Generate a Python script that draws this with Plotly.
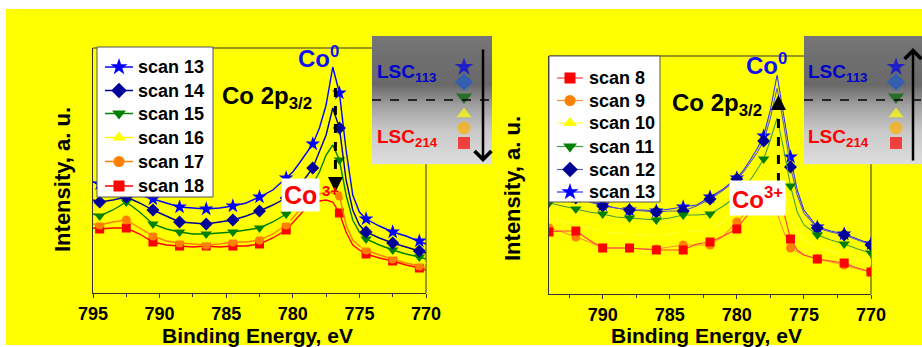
import numpy as np
import plotly.graph_objects as go

W, H = 922, 347

# ---------------- data ----------------
# Left panel: scans 13 -> 18 (LSC113 -> LSC214)
E_LEFT = [795, 794.5, 793.5, 792.5, 791.5, 790.5, 789.5, 788.5, 787.5, 786.5, 785.5,
          784.5, 783.5, 782.5, 781.5, 780.5, 780, 779.5, 779, 778.5, 778, 777.5, 777,
          776.5, 776, 775.5, 775, 774.5, 773.5, 772.5, 771.5, 770.5, 770]
SCAN13_L = [118, 116, 112, 110, 105, 101, 97, 93, 92, 91, 92, 94, 97, 103, 110, 122, 128,
            137, 146, 156, 172, 195, 233, 207, 150, 105, 88, 81, 74, 68, 64, 59, 56]
SCAN14_L = [100, 98, 100, 103, 97, 90, 84, 78, 77, 76, 78, 80, 84, 89, 95, 102, 108,
            115, 123, 132, 148, 165, 192, 172, 120, 90, 75, 68, 62, 57, 53, 49, 47]
SCAN15_L = [86, 84, 90, 98, 88, 76, 71, 68, 66, 66, 67, 68, 70, 72, 78, 86, 91,
            98, 105, 116, 128, 145, 155, 140, 105, 80, 68, 61, 55, 50, 46, 43, 41]
SCAN16_L = [81, 80, 84, 89, 80, 70, 65, 62, 61, 60, 62, 63, 64, 66, 72, 80, 86,
            94, 102, 110, 117, 127, 131, 122, 90, 70, 61, 55, 50, 46, 42, 39, 37]
SCAN17_L = [76, 75, 78, 80, 72, 64, 59, 57, 56, 55, 56, 58, 58, 60, 66, 75, 82,
            90, 98, 103, 106, 108, 107, 104, 75, 60, 54, 50, 45, 41, 37, 34, 32]
SCAN18_L = [72, 71, 72, 72, 66, 58, 55, 54, 53, 54, 53, 54, 54, 56, 62, 70, 77,
            85, 92, 96, 99, 100, 98, 87, 68, 55, 50, 46, 42, 39, 35, 32, 30]

# Right panel: scans 8 -> 13 (LSC214 -> LSC113)
E_RIGHT = [794, 793, 792, 791, 790, 789, 788, 787, 786, 785, 784, 783, 782, 781, 780,
           779.5, 779, 778.5, 778, 777.5, 777, 776.5, 776, 775.5, 775, 774, 773, 772, 771, 770]
SCAN8_R = [68, 69, 69, 60, 52, 52, 52, 51, 50, 50, 50, 56, 58, 64, 71,
           80, 88, 92, 93, 94, 94, 88, 61, 50, 45, 41, 39, 37, 32, 28]
SCAN9_R = [72, 68, 63, 58, 52, 52, 52, 51, 51, 53, 55, 55, 55, 64, 78,
           85, 89, 91, 92, 91, 87, 68, 52, 48, 45, 41, 38, 35, 31, 28]
SCAN10_R = [82, 79, 75, 72, 68, 67, 66, 65, 64, 66, 69, 69, 70, 78, 90,
            97, 104, 110, 116, 125, 134, 110, 82, 68, 60, 53, 49, 45, 40, 37]
SCAN11_R = [97, 94, 91, 88, 86, 83, 82, 81, 80, 82, 85, 85, 86, 94, 104,
            112, 120, 130, 141, 160, 182, 150, 114, 88, 75, 65, 60, 56, 51, 47]
SCAN12_R = [108, 105, 102, 98, 94, 92, 90, 89, 88, 89, 89, 94, 101, 110, 121,
            128, 137, 147, 159, 182, 212, 175, 133, 105, 87, 72, 68, 65, 60, 55]
SCAN13_R = [110, 106, 103, 99, 95, 92, 90, 90, 89, 91, 93, 95, 103, 111, 122,
            130, 140, 151, 164, 190, 225, 185, 143, 110, 90, 73, 69, 66, 61, 56]

LEFT_NAMES = ["scan 13", "scan 14", "scan 15", "scan 16", "scan 17", "scan 18"]
RIGHT_NAMES = ["scan 8", "scan 9", "scan 10", "scan 11", "scan 12", "scan 13"]
X_TICKS_LEFT = [795, 790, 785, 780, 775, 770]
X_TICKS_RIGHT = [790, 785, 780, 775, 770]

# ---------------- styles ----------------
FONT = "Arial, Liberation Sans, sans-serif"
C_BLUE, C_NAVY, C_GREEN = "#0000FF", "#000099", "#008000"
C_YEL, C_ORA, C_RED = "#FFFF00", "#FF8000", "#FF0000"

left_series = [
    (LEFT_NAMES[0], SCAN13_L, "star", C_BLUE, C_BLUE, 11),
    (LEFT_NAMES[1], SCAN14_L, "diamond", C_NAVY, C_NAVY, 10),
    (LEFT_NAMES[2], SCAN15_L, "triangle-down", C_GREEN, C_GREEN, 10),
    (LEFT_NAMES[3], SCAN16_L, "triangle-up", C_YEL, C_YEL, 10),
    (LEFT_NAMES[4], SCAN17_L, "circle", C_ORA, C_ORA, 9),
    (LEFT_NAMES[5], SCAN18_L, "square", C_RED, C_RED, 9),
]
right_series = [
    (RIGHT_NAMES[0], SCAN8_R, "square", "#FF4040", C_RED, 9),
    (RIGHT_NAMES[1], SCAN9_R, "circle", "#FF9040", C_ORA, 9),
    (RIGHT_NAMES[2], SCAN10_R, "triangle-up", "#FFFF40", C_YEL, 10),
    (RIGHT_NAMES[3], SCAN11_R, "triangle-down", "#40A040", C_GREEN, 10),
    (RIGHT_NAMES[4], SCAN12_R, "diamond", "#6060B0", C_NAVY, 10),
    (RIGHT_NAMES[5], SCAN13_R, "star", "#3030FF", C_BLUE, 11),
]

def px(x):
    return x / W

def py(y):
    return 1 - y / H

fig = go.Figure()

# marker positions: every 2 eV
mask_left = [abs(((794.5 - e) / 2) - round((794.5 - e) / 2)) < 1e-9 and e <= 794.5 for e in E_LEFT]
mask_right = [abs(e / 2 - round(e / 2)) < 1e-9 and float(e).is_integer() for e in E_RIGHT]

def add_panel(series, E, mask, xa, ya, lw):
    for name, vals, sym, lc, mc, ms in reversed(series):
        fig.add_trace(go.Scatter(x=E, y=vals, mode="lines", line=dict(color=lc, width=lw),
                                 xaxis=xa, yaxis=ya, showlegend=False, hoverinfo="skip", name=name))
        mx = [e for e, m in zip(E, mask) if m]
        my = [v for v, m in zip(vals, mask) if m]
        fig.add_trace(go.Scatter(x=mx, y=my, mode="markers",
                                 marker=dict(symbol=sym, color=mc, size=ms, line=dict(width=0)),
                                 xaxis=xa, yaxis=ya, showlegend=False, hoverinfo="skip",
                                 cliponaxis=True, name=name))

add_panel(left_series, E_LEFT, mask_left, "x", "y", 1.4)
add_panel(right_series, E_RIGHT, mask_right, "x2", "y2", 1.1)

ann = []
def text(x, y, t, size, color="black", xanchor="left", **kw):
    d = dict(x=x, y=y, xref="x3", yref="y3", text=t, showarrow=False, xanchor=xanchor,
             yanchor="middle", font=dict(family=FONT, size=size, color=color, weight="bold"))
    d.update(kw)
    ann.append(d)

# ---- hand-built legends on the overlay (pixel) axes ----
def add_legend(series, box, item_y, x_line, x_text, lw):
    bx0, by0, bx1, by1 = box
    fig.add_trace(go.Scatter(x=[bx0, bx1, bx1, bx0, bx0], y=[by0, by0, by1, by1, by0],
                             mode="lines", fill="toself", fillcolor="white",
                             line=dict(color="#555555", width=1), xaxis="x3", yaxis="y3",
                             showlegend=False, hoverinfo="skip"))
    for (name, vals, sym, lc, mc, ms), yy in zip(series, item_y):
        fig.add_trace(go.Scatter(x=[x_line[0], x_line[1]], y=[yy, yy], mode="lines",
                                 line=dict(color=lc, width=lw), xaxis="x3", yaxis="y3",
                                 showlegend=False, hoverinfo="skip"))
        fig.add_trace(go.Scatter(x=[(x_line[0] + x_line[1]) / 2], y=[yy], mode="markers",
                                 marker=dict(symbol=sym, color=mc, size=ms + 2, line=dict(width=0)),
                                 xaxis="x3", yaxis="y3", showlegend=False, hoverinfo="skip",
                                 cliponaxis=False))
        text(x_text, yy, name, 18)

add_legend(left_series, (97, 47, 213, 197), [67, 90.5, 113.5, 137.5, 161.5, 186],
           (105, 133), 136, 1.5)
add_legend(right_series, (549, 56, 660, 202), [78, 100.5, 123, 146.5, 169.5, 192],
           (557, 583), 587, 1.2)

# glyph column inside the grey boxes (overlay pixel axes)
BOX_SYMBOLS = ["star", "diamond", "triangle-down", "triangle-up", "circle", "square"]
BOX_COLORS = ["#0000EE", "#1E5AC8", "#006400", "#FFFF00", "#FFB000", "#FF0000"]
BOX_Y = [67, 82, 97, 114, 128, 143]
for bx in (464, 896):
    fig.add_trace(go.Scatter(x=[bx] * 6, y=BOX_Y, mode="markers",
                             marker=dict(symbol=BOX_SYMBOLS, color=BOX_COLORS, size=[14, 14, 14, 13, 13, 12],
                                         line=dict(width=0)),
                             xaxis="x3", yaxis="y3", showlegend=False, hoverinfo="skip",
                             cliponaxis=False))

shapes = []
# yellow background
shapes.append(dict(type="rect", xref="paper", yref="paper", x0=px(6), x1=px(922), y0=py(345), y1=py(9),
                   fillcolor="#FFFF00", line=dict(width=0), layer="below"))
# plot frames (top/right) - hidden under grey boxes where they overlap
for (x0, x1, y0, y1) in [(93, 426, 48, 293), (549, 871, 56, 294)]:
    shapes.append(dict(type="line", xref="paper", yref="paper", x0=px(x0), x1=px(x1), y0=py(y0), y1=py(y0),
                       line=dict(color="#333333", width=1), layer="below"))
    shapes.append(dict(type="line", xref="paper", yref="paper", x0=px(x1), x1=px(x1), y0=py(y0), y1=py(y1),
                       line=dict(color="#333333", width=1), layer="below"))

# grey gradient boxes
stops_y = [36, 60, 85, 97, 105, 130, 164]
stops_c = [0x77, 0x6E, 0x6A, 0x88, 0x9F, 0xC8, 0xDD]
n_strips = 64
for (bx0, bx1) in [(372, 492), (804, 922)]:
    for i in range(n_strips):
        ya = 36 + (164 - 36) * i / n_strips
        yb = 36 + (164 - 36) * (i + 1) / n_strips
        g = int(round(np.interp((ya + yb) / 2, stops_y, stops_c)))
        shapes.append(dict(type="rect", xref="paper", yref="paper", x0=px(bx0), x1=px(bx1),
                           y0=py(yb + 0.3), y1=py(ya), fillcolor=f"rgb({g},{g},{g})",
                           line=dict(width=0), layer="below"))
    shapes.append(dict(type="line", xref="x3", yref="y3", x0=bx0, x1=bx1, y0=100, y1=100,
                       line=dict(color="black", width=1.5, dash="dash"), layer="above"))

# dashed arrows inside the plots
shapes.append(dict(type="line", xref="x", yref="y", x0=776.8, x1=776.8, y0=212, y1=118,
                   line=dict(color="black", width=3, dash="dash"), layer="above"))
shapes.append(dict(type="line", xref="x2", yref="y2", x0=776.9, x1=776.9, y0=118, y1=192,
                   line=dict(color="black", width=3, dash="dash"), layer="above"))

# arrowheads of dashed arrows
ann.append(dict(x=776.8, y=108, xref="x", yref="y", ax=0, ay=-16, text="", showarrow=True,
                arrowhead=2, arrowsize=1, arrowwidth=3, arrowcolor="black"))
ann.append(dict(x=776.9, y=205, xref="x2", yref="y2", ax=0, ay=16, text="", showarrow=True,
                arrowhead=2, arrowsize=1, arrowwidth=3, arrowcolor="black"))
# long arrows in grey boxes
ann.append(dict(x=483, y=162, xref="x3", yref="y3", ax=483, ay=48, axref="x3", ayref="y3", text="",
                showarrow=True, arrowhead=4, arrowsize=1.3, arrowwidth=2.5, arrowcolor="black"))
ann.append(dict(x=913, y=48, xref="x3", yref="y3", ax=913, ay=162, axref="x3", ayref="y3", text="",
                showarrow=True, arrowhead=4, arrowsize=1.3, arrowwidth=2.5, arrowcolor="black"))

# panel labels
text(220, 97, "Co 2p<sub>3/2</sub>", 24)
text(670, 104, "Co 2p<sub>3/2</sub>", 24)
text(296, 57, "Co<sup>0</sup>", 24, color="#1010F0")
text(744, 64, "Co<sup>0</sup>", 24, color="#1010F0")
text(300, 195, "Co", 25, color="#FF0000", xanchor="center", bgcolor="white", borderpad=2)
text(320, 190, "3+", 15, color="#FF0000")
text(757, 198, "Co<sup>3+</sup>", 24, color="#FF0000", xanchor="center", bgcolor="white", borderpad=2)
# LSC labels
for lx in (375, 806):
    text(lx, 73, "LSC<sub>113</sub>", 19, color="#0000CC")
    text(lx, 138, "LSC<sub>214</sub>", 19, color="#FF0000")
# axis titles
text(62, 180, "Intensity, a. u.", 22, xanchor="center", textangle=-90)
text(512, 189, "Intensity, a. u.", 22, xanchor="center", textangle=-90)
text(257, 335.5, "Binding Energy, eV", 21, xanchor="center", borderpad=0)
text(706, 335.5, "Binding Energy, eV", 21, xanchor="center", borderpad=0)

axis_common = dict(showgrid=False, zeroline=False, showline=True, linecolor="#333333", linewidth=1)
xcommon = dict(axis_common, ticks="outside", ticklen=4, tickcolor="#333333",
               tickfont=dict(family=FONT, size=18, color="black", weight="bold"),
               minor=dict(dtick=2.5, ticks="outside", ticklen=3, tickcolor="#333333"))
ycommon = dict(axis_common, ticks="", showticklabels=False)

fig.update_layout(
    width=W, height=H, margin=dict(l=0, r=0, t=0, b=0, pad=0, autoexpand=False),
    paper_bgcolor="white", plot_bgcolor="rgba(0,0,0,0)", showlegend=False,
    xaxis=dict(xcommon, domain=[px(93), px(426)], range=[795, 770], tickvals=X_TICKS_LEFT, anchor="y",
               automargin=False),
    yaxis=dict(ycommon, domain=[py(293), py(48)], range=[7, 252], anchor="x", automargin=False),
    xaxis2=dict(xcommon, domain=[px(549), px(871)], range=[794, 770], tickvals=X_TICKS_RIGHT, anchor="y2",
                automargin=False),
    yaxis2=dict(ycommon, domain=[py(294), py(56)], range=[6, 244], anchor="x2", automargin=False),
    xaxis3=dict(domain=[0, 1], range=[0, W], visible=False, anchor="y3", fixedrange=True, automargin=False),
    yaxis3=dict(domain=[0, 1], range=[H, 0], visible=False, anchor="x3", fixedrange=True, automargin=False),
    shapes=shapes, annotations=ann,
)

fig.write_html("out.html")
